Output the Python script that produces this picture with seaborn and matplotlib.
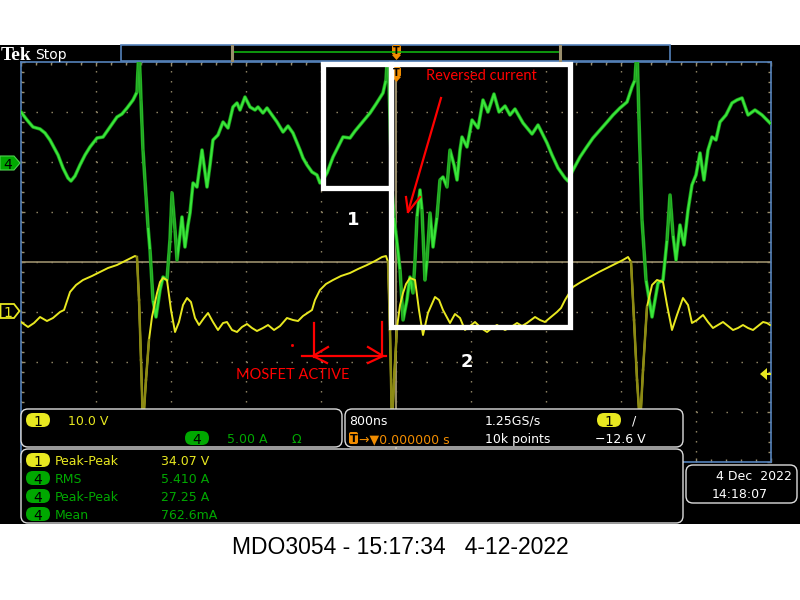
import numpy as np
import pandas as pd
import matplotlib
matplotlib.use("Agg")
import matplotlib.pyplot as plt
from matplotlib.patches import Rectangle, FancyBboxPatch, Polygon
from matplotlib.ticker import MultipleLocator
import seaborn as sns

# channel 4, current probe (A) vs time (ns)
ch4_time_ns = [-4000, -3936, -3872, -3797, -3744, -3691, -3605, -3552, -3499, -3467,
               -3424, -3371, -3317, -3264, -3189, -3125, -3051, -2976, -2923, -2869,
               -2805, -2763, -2741, -2720, -2699, -2645, -2624, -2592, -2560, -2517,
               -2485, -2443, -2411, -2389, -2357, -2336, -2304, -2283, -2251, -2219,
               -2197, -2165, -2123, -2069, -2016, -1984, -1952, -1899, -1845, -1792,
               -1739, -1696, -1664, -1611, -1557, -1504, -1472, -1419, -1376, -1323,
               -1269, -1205, -1152, -1099, -1024, -992, -949, -896, -843, -811,
               -768, -736, -672, -619, -565, -491, -437, -384, -331, -277,
               -213, -139, -107, -85, -64, -43, -21, 11, 43, 75,
               117, 149, 181, 203, 224, 256, 277, 309, 331, 363,
               395, 437, 469, 501, 544, 576, 619, 651, 683, 704,
               757, 811, 875, 928, 981, 1045, 1099, 1163, 1216, 1269,
               1355, 1451, 1515, 1611, 1664, 1728, 1803, 1835, 1877, 1963,
               2027, 2101, 2176, 2251, 2315, 2389, 2464, 2517, 2549, 2571,
               2592, 2624, 2667, 2731, 2763, 2795, 2848, 2891, 2923, 2955,
               2987, 3029, 3072, 3115, 3157, 3200, 3243, 3285, 3328, 3371,
               3413, 3456, 3520, 3584, 3637, 3691, 3755, 3829, 3904, 3989]
ch4_current_a = [5.0, 4.2, 3.5, 3.3, 2.9, 2.2, 0.7, -0.6, -1.6, -1.9,
                 -1.4, -0.3, 0.7, 1.5, 2.4, 2.5, 3.5, 4.5, 4.8, 5.4,
                 6.2, 7.0, 11.5, 6.2, 1.2, -6.5, -8.8, -13.8, -15.5, -12.8,
                 -11.5, -11.8, -7.8, -3.1, -6.8, -9.8, -7.3, -5.5, -8.5, -6.3,
                 -5.1, -2.1, -2.5, 1.2, -2.5, -0.3, 2.2, 2.7, 4.0, 3.4,
                 5.5, 5.9, 5.2, 6.5, 5.5, 5.2, 5.5, 4.9, 5.4, 4.7,
                 4.0, 3.0, 3.6, 2.9, 1.2, 0.4, -0.3, -1.0, -1.3, -2.1,
                 -1.6, -1.1, 0.5, 1.5, 2.5, 2.4, 3.1, 3.7, 4.3, 4.9,
                 5.8, 6.9, 8.2, 11.5, 4.2, -2.8, -5.5, -8.1, -10.8, -15.8,
                 -13.8, -11.5, -13.1, -9.8, -5.5, -2.8, -4.8, -11.8, -9.8, -5.1,
                 -8.5, -5.5, -1.8, -1.5, -2.5, 1.2, -0.3, -1.8, 1.2, 2.5,
                 1.5, 4.2, 3.4, 6.2, 5.0, 6.8, 5.0, 5.6, 4.7, 5.3,
                 3.9, 2.8, 3.7, 1.9, 0.7, -0.6, -1.6, -1.9, -1.0, 0.5,
                 1.4, 2.4, 3.2, 4.0, 4.7, 5.4, 6.0, 7.5, 8.2, 11.5,
                 4.2, -5.8, -11.8, -15.5, -13.8, -12.1, -11.8, -7.8, -3.3, -7.3,
                 -9.8, -6.3, -8.3, -4.8, -2.3, -1.3, 0.9, -1.8, 1.2, 2.5,
                 2.2, 4.0, 4.7, 5.9, 6.2, 6.4, 4.7, 5.2, 4.7, 3.9]

# channel 1, drain voltage (V) vs time (ns)
ch1_time_ns = [-4000, -3925, -3861, -3797, -3723, -3659, -3584, -3541, -3509, -3477,
               -3413, -3339, -3243, -3157, -3072, -2976, -2869, -2784, -2763, -2741,
               -2720, -2699, -2667, -2635, -2603, -2549, -2517, -2485, -2443, -2400,
               -2357, -2315, -2272, -2229, -2187, -2144, -2101, -2048, -2005, -1952,
               -1899, -1845, -1803, -1749, -1696, -1643, -1589, -1536, -1483, -1419,
               -1365, -1301, -1237, -1163, -1099, -1045, -992, -928, -896, -864,
               -811, -747, -672, -587, -491, -405, -309, -224, -149, -107,
               -85, -64, -43, -21, 11, 43, 75, 107, 149, 203,
               245, 288, 341, 416, 459, 501, 576, 629, 683, 736,
               789, 843, 907, 971, 1024, 1077, 1163, 1227, 1291, 1344,
               1397, 1483, 1536, 1589, 1653, 1717, 1760, 1803, 1888, 1973,
               2069, 2165, 2251, 2336, 2421, 2475, 2507, 2539, 2571, 2603,
               2635, 2677, 2731, 2784, 2848, 2891, 2944, 2997, 3061, 3115,
               3157, 3211, 3275, 3328, 3381, 3435, 3488, 3541, 3595, 3648,
               3701, 3755, 3808, 3861, 3915, 3957, 3989]
ch1_voltage_v = [-2.2, -3.2, -2.4, -1.2, -2.0, -1.4, -0.2, 0.2, 2.0, 3.8,
                 5.2, 6.2, 7.0, 7.8, 8.6, 9.2, 10.2, 11.0, 10.8, 2.2,
                 -9.8, -23.0, -13.8, -5.8, -1.2, 3.6, 5.8, 6.6, 6.2, 0.2,
                 -4.2, -2.2, 1.2, 2.6, 1.8, -1.4, -2.8, -1.4, -0.4, -2.2,
                 -3.8, -2.4, -2.2, -3.8, -4.2, -3.2, -2.6, -3.4, -4.0, -3.4,
                 -2.8, -3.8, -3.0, -1.4, -1.8, -2.0, -1.0, -0.2, 0.2, 2.2,
                 4.2, 5.4, 6.2, 7.0, 7.6, 8.4, 9.2, 10.0, 10.8, 11.0,
                 9.8, -3.8, -23.0, -13.8, -3.2, 1.2, 3.6, 5.4, 6.6, 6.2,
                 0.2, -4.8, -0.4, 2.8, 2.2, 0.2, -2.4, -0.6, -1.4, -3.8,
                 -3.0, -2.2, -3.4, -4.2, -3.4, -2.8, -3.8, -3.2, -2.4, -3.0,
                 -2.4, -1.2, -1.8, -2.2, -1.2, -0.2, 0.6, 2.2, 4.8, 5.8,
                 6.8, 7.8, 8.6, 9.4, 10.2, 10.8, 9.8, -1.8, -13.8, -23.0,
                 -11.8, 0.8, 5.2, 6.2, 5.8, 1.2, -3.8, -0.8, 2.6, 1.2,
                 -2.4, -1.8, -0.8, -2.2, -3.4, -2.8, -2.2, -3.0, -3.8, -3.4,
                 -2.8, -3.4, -3.8, -3.0, -2.2, -2.4, -2.8]

# scope settings shown on screen
time_per_div_ns = 800
ch1_volts_per_div = 10.0
ch4_amps_per_div = 5.0
ch1_screen_center_v = 9.8
ch4_screen_center_a = -10.0

measure_channels = ["1", "4", "4", "4"]
measure_labels = ["Peak-Peak", "RMS", "Peak-Peak", "Mean"]
measure_values = ["34.07 V", "5.410 A", "27.25 A", "762.6mA"]

YELLOW = "#e8e820"
OLIVE = "#8c8a14"
GREEN = "#3ae63a"
DKGREEN = "#1a9a1a"
PANEL_GREEN = "#00a800"
TAN = "#9a8e6c"
BLUE = "#5582bb"
ORANGE = "#f08c00"
FONT = "DejaVu Sans"

fig = plt.figure(figsize=(8, 6), dpi=100, facecolor="white")
fig.patches.append(Rectangle((0, 1 - 524 / 600), 1, 479 / 600, transform=fig.transFigure,
                             facecolor="black", edgecolor="none", zorder=-1))

# graticule: 10 x 8 divisions
ax_i = fig.add_axes([21 / 800, 1 - 462 / 600, 750 / 800, 400 / 600], zorder=1)
ax_i.set_facecolor("black")
ax_v = ax_i.twinx()
ax_v.patch.set_visible(False)

ax_i.set_xlim(-5 * time_per_div_ns, 5 * time_per_div_ns)
ax_i.set_ylim(ch4_screen_center_a - 4 * ch4_amps_per_div, ch4_screen_center_a + 4 * ch4_amps_per_div)
ax_v.set_ylim(ch1_screen_center_v - 4 * ch1_volts_per_div, ch1_screen_center_v + 4 * ch1_volts_per_div)

ax_i.xaxis.set_major_locator(MultipleLocator(time_per_div_ns))
ax_i.yaxis.set_major_locator(MultipleLocator(ch4_amps_per_div))
ax_i.xaxis.set_minor_locator(MultipleLocator(time_per_div_ns / 5))
ax_i.yaxis.set_minor_locator(MultipleLocator(ch4_amps_per_div / 5))
ax_i.xaxis.grid(True, color=TAN, lw=1.0, linestyle=(0, (1.0, 6.2)))
ax_i.yaxis.grid(True, color=TAN, lw=1.0, linestyle=(0, (1.0, 9.8)))
ax_i.tick_params(which="both", direction="in", colors=TAN, top=True, right=True,
                 labelleft=False, labelbottom=False, width=1.0)
ax_i.tick_params(which="major", length=3)
ax_i.tick_params(which="minor", length=2)
ax_v.set_yticks([])
ax_v.tick_params(right=False, labelright=False)
for s in ax_i.spines.values():
    s.set_color(BLUE)
    s.set_linewidth(1.2)
for s in ax_v.spines.values():
    s.set_visible(False)
ax_i.axhline(ch4_screen_center_a, color=TAN, lw=1.2, zorder=1)
ax_i.axvline(0, color=TAN, lw=1.4, zorder=1)

df4 = pd.DataFrame({"t": ch4_time_ns, "i": ch4_current_a})
df1 = pd.DataFrame({"t": ch1_time_ns, "v": ch1_voltage_v})

sns.lineplot(data=df4, x="t", y="i", ax=ax_i, color=DKGREEN, lw=2.6, sort=False,
             estimator=None, legend=False, zorder=3)
sns.lineplot(data=df4, x="t", y="i", ax=ax_i, color=GREEN, lw=1.5, sort=False,
             estimator=None, legend=False, zorder=4)
sns.lineplot(data=df1, x="t", y="v", ax=ax_v, color=YELLOW, lw=1.4, sort=False,
             estimator=None, legend=False, zorder=3)

# fast edges are drawn dimmer by the scope
px_x = 75 / time_per_div_ns
steep1 = np.abs(np.diff(df1.v)) * 50 / ch1_volts_per_div / (np.diff(df1.t) * px_x) > 10
for k in np.where(steep1)[0]:
    sns.lineplot(data=df1.iloc[k:k + 2], x="t", y="v", ax=ax_v, color=OLIVE, lw=1.8,
                 sort=False, estimator=None, legend=False, zorder=4)
steep4 = np.abs(np.diff(df4.i)) * 50 / ch4_amps_per_div / (np.diff(df4.t) * px_x) > 12
for k in np.where(steep4)[0]:
    sns.lineplot(data=df4.iloc[k:k + 2], x="t", y="i", ax=ax_i, color="#22a422", lw=1.3,
                 sort=False, estimator=None, legend=False, zorder=5)
for a in (ax_i, ax_v):
    a.set_xlabel("")
    a.set_ylabel("")

# overlay in pixel space for the scope chrome and annotations
ov = fig.add_axes([0, 0, 1, 1], zorder=10)
ov.set_xlim(0, 800)
ov.set_ylim(600, 0)
ov.axis("off")
ov.patch.set_alpha(0)


def pill(x, y, label, color):
    ov.add_patch(FancyBboxPatch((x - 12, y - 7), 24, 14, boxstyle="round,pad=0,rounding_size=7",
                                fc=color, ec="none"))
    ov.text(x, y + 0.5, label, ha="center", va="center_baseline", color="black",
            fontsize=10, family=FONT)


def panel(x, y, w, h):
    ov.add_patch(FancyBboxPatch((x, y), w, h, boxstyle="round,pad=0,rounding_size=7",
                                fc="black", ec="#dcdcdc", lw=1.0))


def txt(x, y, s, color="white", size=9, ha="left"):
    ov.text(x, y, s, ha=ha, va="center_baseline", color=color, fontsize=size, family=FONT)


# header
ov.text(1, 54, "Tek", color="white", fontsize=14, fontweight="bold",
        family="Liberation Serif", va="center_baseline")
txt(35, 53.5, "Stop", size=10)
ov.add_patch(Rectangle((121, 45), 549, 16, fc="black", ec=BLUE, lw=1.2))
ov.plot([232, 560], [52, 52], color="#10b010", lw=1.2)
ov.plot([232, 232], [46, 60], color=TAN, lw=2.2)
ov.plot([560, 560], [46, 60], color=TAN, lw=2.2)
for yt in (45, 67):
    ov.add_patch(FancyBboxPatch((392, yt), 9, 10, boxstyle="round,pad=0,rounding_size=2",
                                fc=ORANGE, ec="none"))
    ov.text(396.5, yt + 5.5, "T", ha="center", va="center", color="black", fontsize=7,
            fontweight="bold", family=FONT)
    ov.add_patch(Polygon([(392, yt + 10), (401, yt + 10), (396.5, yt + 15)], fc=ORANGE, ec="none"))

# channel markers
ov.add_patch(Polygon([(0, 156), (14, 156), (20, 163), (14, 170), (0, 170)], fc=PANEL_GREEN,
                     ec="#50d050", lw=0.8))
ov.text(8, 163.5, "4", ha="center", va="center_baseline", color="black", fontsize=10, family=FONT)
ov.add_patch(Polygon([(0.5, 304), (14, 304), (19.5, 311), (14, 318), (0.5, 318)], fc="black",
                     ec=YELLOW, lw=1.3))
ov.text(8, 311.5, "1", ha="center", va="center_baseline", color=YELLOW, fontsize=10, family=FONT)
ov.add_patch(Polygon([(760, 374), (767, 368), (767, 380)], fc=YELLOW, ec="none"))
ov.plot([766, 770], [374, 374], color=YELLOW, lw=1.5)

# annotations
ov.add_patch(Rectangle((322.5, 63.5), 68, 124, fill=False, ec="white", lw=3.8))
ov.add_patch(Rectangle((390.5, 63.5), 179, 263, fill=False, ec="white", lw=3.8))
ov.text(353, 220, "1", ha="center", va="center", color="white", fontsize=13,
        fontweight="bold", family=FONT)
ov.text(467, 362, "2", ha="center", va="center", color="white", fontsize=13,
        fontweight="bold", family=FONT)
ov.text(481, 76, "Reversed current", ha="center", va="center", color="red", fontsize=10.5,
        family="Lato")
ov.plot([441, 408], [98, 212], color="red", lw=1.6)
ov.plot([406, 408, 420], [197, 212, 197], color="red", lw=1.6)
ov.plot([314, 314], [323, 357], color="red", lw=1.6)
ov.plot([382, 382], [322, 356], color="red", lw=1.6)
ov.plot([302, 386], [356, 356], color="red", lw=1.6)
ov.plot([328, 313, 327], [347, 356, 363], color="red", lw=1.6)
ov.plot([368, 383, 368], [347, 356, 363], color="red", lw=1.6)
ov.plot([292], [345], marker="s", ms=1, color="red")
ov.text(293, 375, "MOSFET ACTIVE", ha="center", va="center", color="red", fontsize=10.5,
        family="Lato")

# readout panels
panel(21, 409, 321, 38)
panel(345, 409, 338, 38)
panel(21, 449, 662, 74)
panel(686, 465, 111, 38)

pill(38, 420, "1", YELLOW)
txt(68, 420, "10.0 V", YELLOW)
pill(197, 438, "4", PANEL_GREEN)
txt(227, 438, "5.00 A", PANEL_GREEN)
txt(292, 438, "Ω", PANEL_GREEN)

txt(349, 420, "800ns")
ov.add_patch(FancyBboxPatch((349, 432), 9, 12, boxstyle="round,pad=0,rounding_size=2",
                            fc=ORANGE, ec="none"))
ov.text(353.5, 438.5, "T", ha="center", va="center_baseline", color="black", fontsize=8,
        fontweight="bold", family=FONT)
txt(359, 438, "→▼0.000000 s", ORANGE)
txt(485, 420, "1.25GS/s")
txt(485, 438, "10k points")
pill(609, 420, "1", YELLOW)
txt(632, 420, "/")
txt(595, 438, "−12.6 V")

for k, (ch, lab, val) in enumerate(zip(measure_channels, measure_labels, measure_values)):
    y = 460 + k * 18
    col = YELLOW if ch == "1" else PANEL_GREEN
    pill(38, y, ch, col)
    txt(55, y, lab, col)
    txt(161, y, val, col)

txt(792, 475, "4 Dec  2022", ha="right")
txt(712, 493, "14:18:07")

ov.text(400, 548, "MDO3054 - 15:17:34   4-12-2022", ha="center", va="center", color="black",
        fontsize=16.5, family="Liberation Sans")

fig.savefig("out.png", dpi=100, facecolor="white")
